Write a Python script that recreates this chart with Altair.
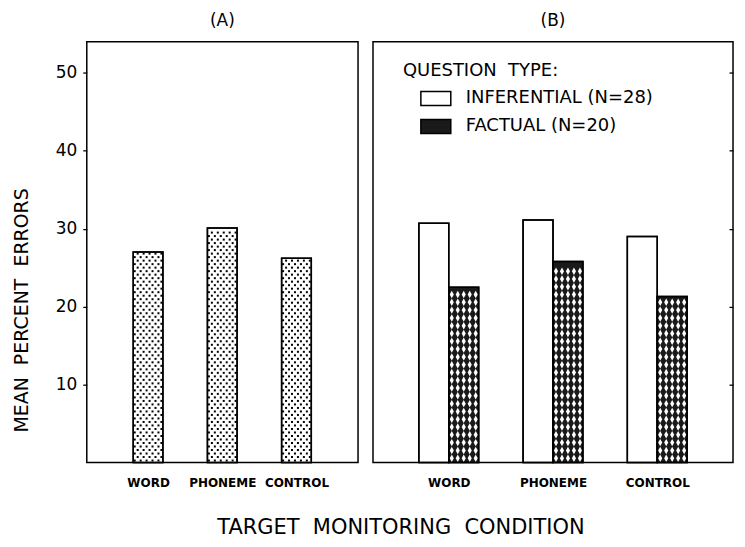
import altair as alt
import pandas as pd
import numpy as np

# ---------------- data ----------------
conditions = ["WORD", "PHONEME", "CONTROL"]
panel_a_errors = [27.0, 30.1, 26.2]
question_types = ["INFERENTIAL (N=28)", "FACTUAL (N=20)"]
inferential_errors = [30.7, 31.1, 29.0]
factual_errors = [22.5, 25.8, 21.3]
y_ticks = [10, 20, 30, 40, 50]
y_max = 54

FONT = "DejaVu Sans"
SP = " \u00a0"  # wide word gap (plain + no-break space so it is not collapsed)

# category index positions (x axis is the category index, labelled with names)
idx = list(range(len(conditions)))
HALF_A = 0.2     # half bar width in panel A (category units)
BAR_B = 0.287    # bar width in panel B (category units)

df_a = pd.DataFrame({"cond": conditions, "i": idx, "err": panel_a_errors})
df_a["x0"] = df_a["i"] - HALF_A
df_a["x1"] = df_a["i"] + HALF_A

df_b = pd.DataFrame({
    "cond": conditions * 2,
    "i": idx * 2,
    "qtype": [question_types[0]] * 3 + [question_types[1]] * 3,
    "err": inferential_errors + factual_errors,
})
df_b["x0"] = np.where(df_b["qtype"] == question_types[0], df_b["i"] - BAR_B, df_b["i"])
df_b["x1"] = df_b["x0"] + BAR_B

# texture (dots) inside panel A bars, following each bar's height
dot_rows = []
for i, v in zip(idx, panel_a_errors):
    for j, yv in enumerate(np.arange(0.25, v - 0.15, 0.45)):
        for k in range(j % 2, 10, 2):
            dot_rows.append({"xpos": i - HALF_A + (k + 0.5) * (2 * HALF_A / 10), "err": yv})
dots = pd.DataFrame(dot_rows)

# texture (diamonds) inside factual bars of panel B
dia_rows = []
for i, v in zip(idx, factual_errors):
    for j, yv in enumerate(np.arange(0.55, v - 0.4, 1.0)):
        for k in range(5):
            dia_rows.append({"xpos": i + (k + 0.5) * (BAR_B / 5), "err": yv})
diamonds = pd.DataFrame(dia_rows)

# ---------------- shared pieces ----------------
label_expr = "[" + ",".join(f"'{c}'" for c in conditions) + "][datum.value]"
x_axis = alt.Axis(title=None, values=idx, labelExpr=label_expr, ticks=False, domain=False,
                  grid=False, labelPadding=15, labelFontSize=12, labelFontWeight="bold",
                  labelFont=FONT, labelColor="black", labelAngle=0)

y_scale = alt.Scale(domain=[0, y_max], nice=False, zero=True)

ya_axis = alt.Axis(values=y_ticks, title=f"MEAN{SP}PERCENT{SP}ERRORS", grid=False,
                   domain=False, tickSize=4, tickColor="black", tickWidth=1.3,
                   labelFontSize=17, labelFont=FONT, labelColor="black",
                   labelPadding=6, titleFontSize=19, titleFont=FONT,
                   titleFontWeight="normal", titleColor="black", titlePadding=24,
                   titleY=269)
yb_axis = alt.Axis(values=y_ticks, title=None, orient="right", labels=False, grid=False,
                   domain=False, tickSize=4, offset=-4, tickColor="black", tickWidth=1.3)

# ---------------- panel A ----------------
xa_scale = alt.Scale(domain=[-0.826, 2.83], nice=False, zero=False)

bars_a = alt.Chart(df_a).mark_rect(fill="white", stroke="black", strokeWidth=1.5).encode(
    x=alt.X("x0:Q", scale=xa_scale, axis=x_axis), x2="x1:Q",
    y=alt.Y("err:Q", scale=y_scale, axis=ya_axis), y2=alt.datum(0),
)
dots_a = alt.Chart(dots).mark_point(shape="square", size=4, filled=True, color="black",
                                    opacity=1, strokeWidth=0).encode(
    x=alt.X("xpos:Q", scale=xa_scale, axis=x_axis),
    y=alt.Y("err:Q", scale=y_scale, axis=ya_axis),
)
outline_a = alt.Chart(df_a).mark_rect(fillOpacity=0, stroke="black", strokeWidth=1.5).encode(
    x=alt.X("x0:Q", scale=xa_scale, axis=x_axis), x2="x1:Q",
    y=alt.Y("err:Q", scale=y_scale, axis=ya_axis), y2=alt.datum(0),
)

panel_a = alt.layer(bars_a, dots_a, outline_a).properties(
    width=272, height=422,
    title=alt.TitleParams("(A)", fontSize=17, fontWeight="normal", font=FONT, color="black", offset=12),
)

# ---------------- panel B ----------------
xb_scale = alt.Scale(domain=[-0.727, 2.727], nice=False, zero=False)

bars_b = alt.Chart(df_b).mark_rect(stroke="black", strokeWidth=1.5).encode(
    x=alt.X("x0:Q", scale=xb_scale, axis=x_axis), x2="x1:Q",
    y=alt.Y("err:Q", scale=y_scale, axis=yb_axis), y2=alt.datum(0),
    fill=alt.Fill("qtype:N", sort=question_types,
                  scale=alt.Scale(domain=question_types, range=["white", "#1a1a1a"]),
                  legend=alt.Legend(
                      title=f"QUESTION{SP}TYPE:", orient="none", legendX=317, legendY=20,
                      direction="vertical", titleFontSize=18, titleFont=FONT,
                      titleFontWeight="normal", titleColor="black", titlePadding=8,
                      labelFontSize=18, labelFont=FONT, labelColor="black", labelOffset=19,
                      labelLimit=400,
                      symbolType="M-1.5,-0.7H1.5V0.7H-1.5Z", symbolSize=400, symbolOffset=22,
                      symbolStrokeColor="black", symbolStrokeWidth=1.5, symbolOpacity=1,
                      rowPadding=7)),
)
dia_b = alt.Chart(diamonds).mark_point(shape="M0,-1L0.55,0L0,1L-0.55,0Z", size=56, filled=True,
                                        color="white", opacity=1, strokeWidth=0).encode(
    x=alt.X("xpos:Q", scale=xb_scale, axis=x_axis),
    y=alt.Y("err:Q", scale=y_scale, axis=yb_axis),
)
outline_b = alt.Chart(df_b).mark_rect(fillOpacity=0, stroke="black", strokeWidth=1.5).encode(
    x=alt.X("x0:Q", scale=xb_scale, axis=x_axis), x2="x1:Q",
    y=alt.Y("err:Q", scale=y_scale, axis=yb_axis), y2=alt.datum(0),
)

panel_b = alt.layer(bars_b, dia_b, outline_b).properties(
    width=361, height=422,
    title=alt.TitleParams("(B)", fontSize=17, fontWeight="normal", font=FONT, color="black", offset=12),
)

chart = alt.hconcat(panel_a, panel_b, spacing=13).properties(
    title=alt.TitleParams(f"TARGET{SP}MONITORING{SP}CONDITION", orient="bottom", anchor="middle",
                          fontSize=21, fontWeight="normal", font=FONT, color="black",
                          offset=28, dx=28),
    padding={"left": 3, "top": 2, "right": 2, "bottom": 0},
    background="white",
).configure_view(stroke="black", strokeWidth=1.5)

chart.save("out.html", embed_options={"renderer": "svg", "actions": False})
